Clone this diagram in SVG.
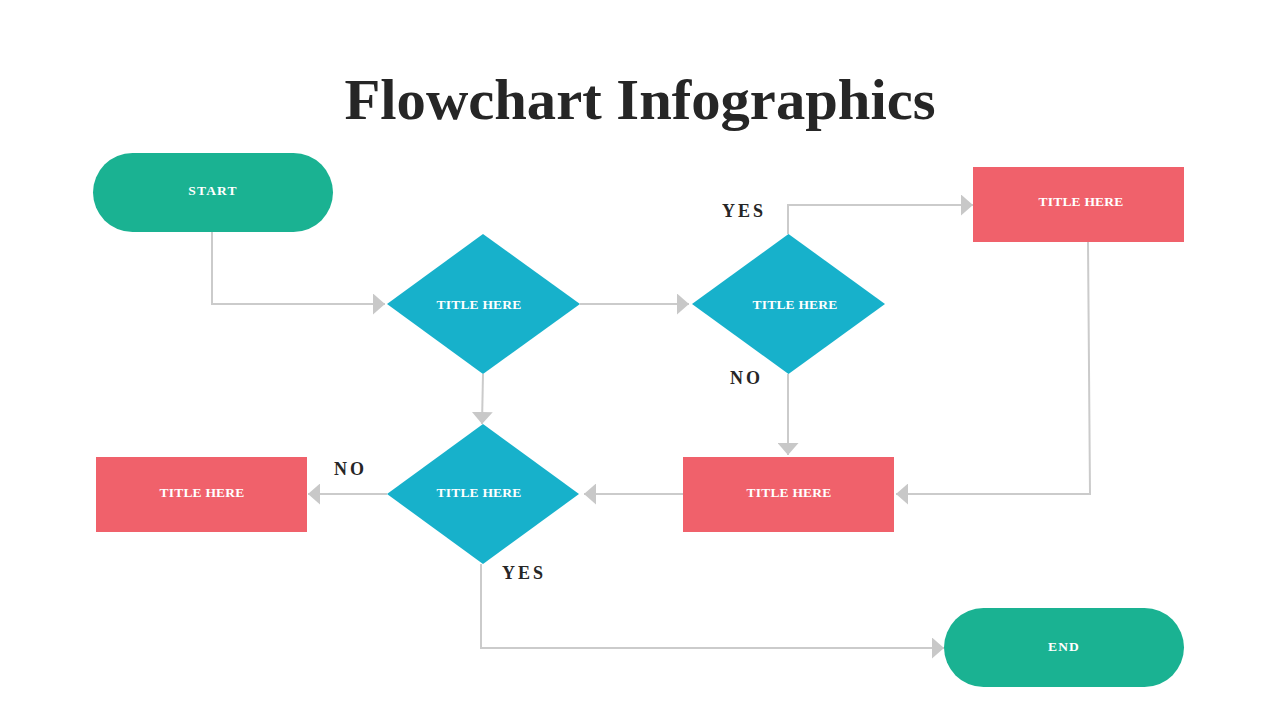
<svg xmlns="http://www.w3.org/2000/svg" width="1280" height="720" viewBox="0 0 1280 720">
<defs>
<marker id="arr" viewBox="0 0 12 21" refX="12" refY="10.5" markerWidth="12" markerHeight="21" markerUnits="userSpaceOnUse" orient="auto">
<path d="M0,0 L12,10.5 L0,21 Z" fill="#c8c8c8"/>
</marker>
<style>
.conn{fill:none;stroke:#cbcbcb;stroke-width:2;marker-end:url(#arr)}
.pill{fill:#1ab292}
.dia{fill:#17b1cb}
.box{fill:#f0616b}
.nt{font-family:"Liberation Serif","DejaVu Serif",serif;font-weight:bold;font-size:13.5px;fill:#ffffff;text-anchor:middle;letter-spacing:0.2px}
.nt2{letter-spacing:1.2px}
.lbl{font-family:"Liberation Serif","DejaVu Serif",serif;font-weight:bold;font-size:18px;fill:#262626;letter-spacing:3px}
.title{font-family:"Liberation Serif","DejaVu Serif",serif;font-weight:bold;font-size:56px;fill:#262626;text-anchor:middle}
</style>
</defs>
<rect width="1280" height="720" fill="#ffffff"/>
<text class="title" x="640" y="119" textLength="591" lengthAdjust="spacingAndGlyphs">Flowchart Infographics</text>

<g id="connectors">
<path class="conn" d="M212,232 V304 H385"/>
<path class="conn" d="M580,304 H689"/>
<path class="conn" d="M483,374 L482,424"/>
<path class="conn" d="M788,234 V205 H973"/>
<path class="conn" d="M788,374 V455"/>
<path class="conn" d="M1088,242 L1090,494 H896"/>
<path class="conn" d="M683,494 H584"/>
<path class="conn" d="M387,494 H308"/>
<path class="conn" d="M481,564 V648 H944"/>
</g>

<g id="start">
<rect class="pill" x="93" y="153" width="240" height="79" rx="39.5"/>
<text class="nt nt2" x="213" y="195">START</text>
</g>
<g id="decision1">
<polygon class="dia" points="483,234 580,304 483,374 387,304"/>
<text class="nt" x="479" y="309">TITLE HERE</text>
</g>
<g id="decision2">
<polygon class="dia" points="788.5,234 885,304 788.5,374 692,304"/>
<text class="nt" x="795" y="309">TITLE HERE</text>
</g>
<g id="box1">
<rect class="box" x="973" y="167" width="211" height="75"/>
<text class="nt" x="1081" y="206">TITLE HERE</text>
</g>
<g id="box2">
<rect class="box" x="683" y="457" width="211" height="75"/>
<text class="nt" x="789" y="497">TITLE HERE</text>
</g>
<g id="decision3">
<polygon class="dia" points="483,424 579,494 483,564 387,494"/>
<text class="nt" x="479" y="497">TITLE HERE</text>
</g>
<g id="box3">
<rect class="box" x="96" y="457" width="211" height="75"/>
<text class="nt" x="202" y="497">TITLE HERE</text>
</g>
<g id="end">
<rect class="pill" x="944" y="608" width="240" height="79" rx="39.5"/>
<text class="nt nt2" x="1064" y="651">END</text>
</g>

<g id="labels">
<text class="lbl" x="722" y="217">YES</text>
<text class="lbl" x="730" y="384">NO</text>
<text class="lbl" x="334" y="475">NO</text>
<text class="lbl" x="502" y="579">YES</text>
</g>
</svg>
